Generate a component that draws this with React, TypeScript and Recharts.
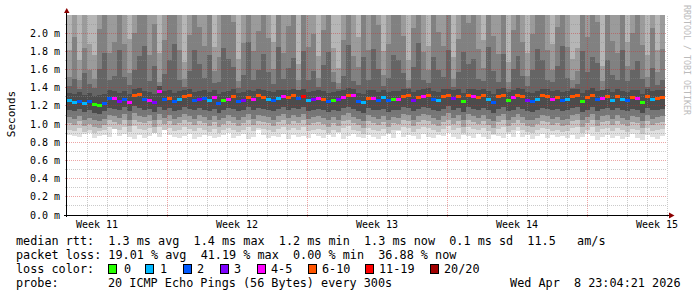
import React from 'react';
import { ComposedChart, Area, Scatter, XAxis, YAxis, ReferenceLine } from 'recharts';

// ---- axis / tick definitions ----
const SPAN_DAYS = 29.9; // data coverage (days)
const X_MAX = 30; // plot width in days
const Y_MAX = 2.2; // ms
const weekTicks = [1.5, 8.5, 15.5, 22.5, 29.5];
const weekLabels = ['Week 11', 'Week 12', 'Week 13', 'Week 14', 'Week 15'];
const weekMajor = [5, 12, 19, 26];
const dayMinor = [1, 2, 3, 4, 6, 7, 8, 9, 10, 11, 13, 14, 15, 16, 17, 18, 20, 21, 22, 23, 24, 25, 27, 28, 29, 30];
const yTicks = [0, 0.2, 0.4, 0.6, 0.8, 1.0, 1.2, 1.4, 1.6, 1.8, 2.0];
const yMinor = [0.1, 0.3, 0.5, 0.7, 0.9, 1.1, 1.3, 1.5, 1.7, 1.9, 2.1];

const lossColors = ['#26ff00', '#00b8ff', '#0059ff', '#7e00ff', '#ff00ff', '#ff5500', '#ff0000', '#a10000'];
const lossLabels = ['0', '1', '2', '3', '4-5', '6-10', '11-19', '20/20'];

// ---- series (values in 0.01 ms) ----
const med = [
  126, 124, 125, 123, 125, 122, 121, 123, 128, 128,
  125, 127, 124, 131, 133, 127, 126, 124, 136, 127,
  128, 125, 127, 130, 131, 126, 127, 128, 126, 129,
  123, 126, 127, 130, 125, 126, 129, 127, 131, 129,
  127, 126, 128, 130, 129, 131, 128, 130, 126, 127,
  128, 127, 125, 126, 127, 129, 132, 131, 125, 124,
  128, 128, 126, 129, 126, 127, 127, 130, 131, 126,
  129, 130, 132, 127, 126, 130, 131, 128, 130, 125,
  131, 130, 129, 131, 127, 124, 130, 131, 126, 129,
  132, 130, 126, 125, 127, 131, 130, 127, 129, 126,
  127, 130, 131, 125, 129, 132, 127, 128, 130, 126,
  130, 127, 126, 129, 128, 124, 130, 127, 128, 129,
];
// loss bucket index into lossColors
const loss = [
  1, 1, 2, 1, 2, 0, 0, 2, 2, 4,
  3, 2, 4, 5, 5, 2, 4, 3, 4, 2,
  5, 2, 1, 5, 5, 2, 3, 2, 1, 4,
  2, 0, 4, 5, 2, 3, 5, 4, 5, 5,
  1, 2, 1, 4, 5, 5, 2, 6, 1, 3,
  4, 5, 2, 0, 3, 4, 5, 4, 2, 1,
  5, 4, 2, 1, 2, 0, 4, 5, 5, 3,
  5, 4, 5, 2, 1, 5, 5, 3, 5, 0,
  5, 4, 5, 5, 1, 2, 5, 5, 0, 4,
  5, 5, 3, 2, 1, 5, 5, 4, 5, 2,
  1, 5, 5, 0, 5, 5, 2, 4, 5, 1,
  5, 1, 2, 5, 4, 0, 5, 1, 5, 5,
];
const hi2 = [
  182, 240, 170, 235, 188, 176, 245, 250, 238, 242,
  250, 236, 194, 240, 255, 248, 232, 244, 178, 239,
  252, 246, 238, 168, 234, 250, 241, 237, 253, 185,
  236, 249, 254, 243, 172, 239, 251, 235, 242, 248,
  240, 190, 252, 236, 244, 249, 166, 253, 238, 241,
  175, 237, 250, 184, 162, 243, 254, 239, 196, 247,
  235, 251, 244, 180, 240, 249, 253, 236, 170, 242,
  255, 238, 186, 248, 241, 234, 252, 174, 239, 250,
  243, 249, 237, 192, 254, 240, 236, 251, 168, 245,
  250, 239, 178, 242, 253, 247, 235, 188, 241, 252,
  238, 172, 184, 249, 243, 255, 237, 164, 250, 240,
  236, 252, 190, 244, 248, 239, 176, 241, 182, 237,
];
const hi3 = [
  152, 196, 148, 184, 160, 150, 205, 238, 178, 190,
  242, 188, 156, 200, 236, 245, 176, 210, 146, 193,
  240, 233, 182, 150, 198, 244, 207, 186, 239, 158,
  174, 241, 236, 212, 147, 189, 247, 180, 202, 234,
  195, 161, 243, 178, 208, 237, 149, 246, 185, 199,
  151, 203, 240, 157, 145, 192, 248, 175, 163, 235,
  181, 244, 209, 154, 188, 238, 232, 197, 148, 206,
  245, 179, 159, 237, 201, 186, 243, 150, 194, 240,
  211, 236, 183, 162, 248, 197, 177, 241, 146, 204,
  239, 190, 153, 199, 244, 235, 182, 160, 207, 246,
  185, 149, 158, 242, 196, 238, 212, 147, 236, 191,
  178, 245, 164, 200, 233, 187, 152, 206, 157, 183,
];
const hi4 = [
  142, 150, 139, 156, 144, 140, 161, 178, 148, 153,
  182, 152, 143, 160, 175, 186, 147, 164, 139, 155,
  170, 188, 149, 141, 158, 181, 166, 151, 176, 145,
  146, 184, 172, 163, 140, 154, 190, 149, 159, 177,
  157, 144, 185, 150, 162, 173, 138, 180, 148, 158,
  141, 165, 179, 146, 139, 153, 187, 147, 143, 174,
  149, 183, 161, 142, 151, 176, 171, 156, 140, 163,
  189, 148, 145, 174, 160, 152, 182, 141, 157, 179,
  166, 172, 150, 147, 185, 158, 146, 177, 139, 161,
  175, 153, 142, 159, 183, 171, 148, 146, 164, 186,
  151, 140, 144, 180, 157, 174, 167, 138, 170, 154,
  149, 181, 147, 160, 169, 150, 141, 162, 143, 148,
];
const cHi = [
  134, 133, 135, 132, 134, 131, 132, 133, 137, 136,
  134, 136, 133, 139, 140, 136, 135, 133, 142, 136,
  137, 134, 136, 138, 139, 135, 136, 137, 135, 138,
  133, 135, 136, 139, 134, 135, 138, 136, 139, 138,
  136, 135, 137, 138, 138, 139, 137, 139, 135, 136,
  137, 136, 134, 135, 136, 138, 140, 139, 134, 133,
  137, 137, 135, 138, 135, 136, 136, 139, 139, 135,
  138, 139, 140, 136, 135, 139, 139, 137, 139, 134,
  139, 139, 138, 139, 136, 133, 139, 140, 135, 138,
  140, 139, 135, 134, 136, 139, 139, 136, 138, 135,
  136, 139, 139, 134, 138, 140, 136, 137, 139, 135,
  139, 136, 135, 138, 137, 133, 139, 136, 137, 138,
];
const cLo = [
  116, 114, 117, 113, 115, 112, 111, 114, 118, 117,
  115, 119, 114, 120, 118, 116, 117, 113, 119, 115,
  118, 114, 116, 119, 117, 115, 118, 116, 114, 117,
  112, 115, 118, 117, 114, 116, 119, 115, 118, 117,
  116, 114, 117, 119, 115, 118, 117, 119, 114, 116,
  117, 115, 113, 116, 114, 118, 119, 117, 114, 112,
  118, 116, 115, 117, 113, 116, 115, 119, 118, 114,
  117, 119, 118, 115, 114, 117, 120, 116, 118, 113,
  119, 117, 116, 118, 115, 112, 117, 119, 114, 116,
  119, 117, 114, 113, 116, 118, 117, 115, 117, 114,
  115, 118, 119, 113, 116, 119, 114, 117, 118, 115,
  118, 115, 114, 117, 116, 112, 118, 115, 116, 117,
];
const lo4 = [
  108, 106, 109, 105, 107, 104, 103, 106, 110, 109,
  107, 111, 105, 112, 109, 108, 110, 104, 111, 107,
  110, 106, 108, 111, 109, 106, 110, 108, 105, 109,
  104, 107, 110, 108, 105, 108, 111, 106, 110, 109,
  108, 105, 109, 111, 107, 110, 108, 111, 106, 108,
  109, 107, 104, 108, 105, 110, 112, 108, 106, 103,
  110, 108, 106, 109, 104, 108, 107, 111, 110, 105,
  109, 111, 110, 107, 105, 109, 112, 107, 110, 104,
  111, 109, 107, 110, 106, 103, 109, 111, 105, 108,
  111, 108, 105, 104, 107, 110, 109, 106, 108, 105,
  106, 110, 111, 104, 108, 111, 105, 109, 110, 106,
  110, 107, 105, 109, 108, 103, 110, 106, 108, 109,
];
const lo3 = [
  101, 99, 103, 98, 100, 97, 96, 99, 104, 102,
  100, 104, 98, 105, 102, 101, 103, 97, 104, 100,
  103, 99, 101, 104, 102, 99, 103, 101, 98, 102,
  97, 100, 103, 101, 98, 101, 104, 99, 103, 102,
  101, 98, 102, 104, 100, 103, 101, 104, 99, 101,
  102, 100, 97, 101, 98, 103, 105, 101, 99, 96,
  103, 101, 99, 102, 97, 101, 100, 104, 103, 98,
  102, 104, 103, 100, 98, 102, 105, 100, 103, 97,
  104, 102, 100, 103, 99, 96, 102, 104, 98, 101,
  104, 101, 98, 97, 100, 103, 102, 99, 101, 98,
  99, 103, 104, 97, 101, 104, 98, 102, 103, 99,
  103, 100, 98, 102, 101, 96, 103, 99, 101, 102,
];
const lo2 = [
  94, 92, 96, 91, 93, 90, 92, 93, 97, 95,
  93, 97, 91, 98, 95, 94, 96, 90, 97, 93,
  96, 92, 94, 97, 95, 92, 96, 94, 91, 95,
  90, 93, 96, 94, 91, 94, 97, 92, 96, 95,
  94, 91, 95, 97, 93, 96, 94, 97, 92, 94,
  95, 93, 90, 94, 91, 96, 98, 94, 92, 89,
  96, 94, 92, 95, 90, 94, 93, 97, 96, 91,
  95, 97, 96, 93, 91, 95, 98, 93, 96, 90,
  97, 95, 93, 96, 92, 89, 95, 97, 91, 94,
  97, 94, 91, 90, 93, 96, 95, 92, 94, 91,
  92, 96, 97, 90, 94, 97, 91, 95, 96, 92,
  96, 93, 91, 95, 94, 89, 96, 92, 94, 95,
];
const lo1 = [
  88, 87, 86, 89, 90, 85, 87, 88, 86, 95,
  87, 89, 86, 84, 88, 85, 87, 90, 86, 94,
  88, 86, 85, 87, 89, 84, 86, 88, 87, 85,
  86, 88, 90, 85, 87, 89, 84, 86, 93, 88,
  85, 87, 86, 89, 84, 88, 86, 87, 85, 89,
  87, 85, 88, 86, 90, 84, 87, 89, 86, 85,
  88, 86, 84, 87, 89, 85, 92, 86, 88, 87,
  84, 89, 86, 85, 88, 87, 90, 86, 84, 88,
  87, 85, 89, 86, 84, 88, 87, 85, 89, 86,
  92, 86, 88, 84, 87, 89, 85, 88, 86, 87,
  85, 88, 84, 86, 89, 87, 83, 86, 88, 85,
  87, 84, 86, 89, 85, 83, 88, 86, 84, 87,
];

// ---- build tables for the library ----
const colW = SPAN_DAYS / med.length;
const clip = (v: number) => Math.min(v / 100, Y_MAX);
const rows: any[] = med.map((m, i) => ({
  x: i * colW,
  med: m / 100,
  hi2: clip(hi2[i]),
  hi3: clip(hi3[i]),
  hi4: clip(hi4[i]),
  cHi: clip(cHi[i]),
  cLo: cLo[i] / 100,
  lo4: lo4[i] / 100,
  lo3: lo3[i] / 100,
  lo2: lo2[i] / 100,
  lo1: lo1[i] / 100,
}));
rows.push({ ...rows[rows.length - 1], x: SPAN_DAYS });
const marks = med.map((m, i) => ({ x: (i + 0.5) * colW, med: m / 100, loss: loss[i] }));

const bands: { key: string; fn: (d: any) => number[]; fill: string }[] = [
  { key: 'u1', fn: (d) => [d.med, Y_MAX], fill: '#b6b6b6' },
  { key: 'u2', fn: (d) => [d.med, d.hi2], fill: '#9b9b9b' },
  { key: 'u3', fn: (d) => [d.med, d.hi3], fill: '#818181' },
  { key: 'u4', fn: (d) => [d.med, d.hi4], fill: '#656565' },
  { key: 'l1', fn: (d) => [d.lo1, d.med], fill: '#e0e0e0' },
  { key: 'l2', fn: (d) => [d.lo2, d.med], fill: '#c4c4c4' },
  { key: 'l3', fn: (d) => [d.lo3, d.med], fill: '#a0a0a0' },
  { key: 'l4', fn: (d) => [d.lo4, d.med], fill: '#767676' },
  { key: 'core', fn: (d) => [d.cLo, d.cHi], fill: '#4c4c4c' },
];

const MONO = "'DejaVu Sans Mono', monospace";
const MINOR = 'rgba(140,140,140,0.45)';
const MAJOR = 'rgba(210,40,40,0.42)';

const MedianMark = (props: any) => {
  const { cx, cy, payload } = props;
  if (cx == null || cy == null) return null;
  return (
    <rect
      x={cx - 2.5}
      y={cy - 1.5}
      width={5}
      height={3}
      fill={lossColors[payload?.loss ?? 0]}
      shapeRendering="crispEdges"
    />
  );
};

const YTick = (props: any) => {
  const { x, y, payload } = props;
  return (
    <text x={x} y={y} dy="0.355em" textAnchor="end" fontFamily={MONO} fontSize={10} fill="#000">
      {`${Number(payload.value).toFixed(1)} m`}
    </text>
  );
};

const XTick = (props: any) => {
  const { x, y, payload, index } = props;
  return (
    <text x={x} y={y} dy="0.71em" textAnchor="middle" fontFamily={MONO} fontSize={10} fill="#000">
      {weekLabels[index] ?? String(payload.value)}
    </text>
  );
};

const boxX = [108, 145, 183, 220, 257, 308, 365, 430];
const boxLabelX = [124, 160, 197, 234, 271, 322, 379, 444];

export default function App() {
  return (
    <div style={{ position: 'absolute', left: 0, top: 0, width: 697, height: 297, background: '#fff' }}>
      <ComposedChart
        width={697}
        height={297}
        data={rows}
        margin={{ top: 15, right: 30, bottom: 52, left: 7 }}
      >
        <XAxis
          dataKey="x"
          type="number"
          domain={[0, X_MAX]}
          allowDataOverflow
          ticks={weekTicks}
          interval={0}
          tick={<XTick />}
          tickLine={false}
          axisLine={false}
          tickSize={0}
          tickMargin={6}
          height={30}
        />
        <YAxis
          type="number"
          domain={[0, Y_MAX]}
          allowDataOverflow
          ticks={yTicks}
          interval={0}
          tick={<YTick />}
          tickLine={false}
          axisLine={false}
          tickSize={0}
          tickMargin={7}
          width={60}
        />
        {bands.map((b) => (
          <Area
            key={b.key}
            name={b.key}
            dataKey={b.fn}
            type="stepAfter"
            stroke="none"
            fill={b.fill}
            fillOpacity={1}
            dot={false}
            activeDot={false}
            isAnimationActive={false}
            shapeRendering="crispEdges"
          />
        ))}
        {yMinor.map((v) => (
          <ReferenceLine
            key={`ym${v}`}
            segment={[{ x: -0.12, y: v }, { x: X_MAX, y: v }]}
            ifOverflow="visible"
            stroke={MINOR}
            strokeDasharray="1 1"
            shapeRendering="crispEdges"
          />
        ))}
        {dayMinor.map((v) => (
          <ReferenceLine
            key={`xm${v}`}
            segment={[{ x: v, y: -0.025 }, { x: v, y: Y_MAX }]}
            ifOverflow="visible"
            stroke={MINOR}
            strokeDasharray="1 1"
            shapeRendering="crispEdges"
          />
        ))}
        {yTicks.slice(1).map((v) => (
          <ReferenceLine
            key={`yM${v}`}
            segment={[{ x: -0.12, y: v }, { x: X_MAX, y: v }]}
            ifOverflow="visible"
            stroke={MAJOR}
            strokeDasharray="1 1"
            shapeRendering="crispEdges"
          />
        ))}
        {weekMajor.map((v) => (
          <ReferenceLine
            key={`xM${v}`}
            segment={[{ x: v, y: -0.025 }, { x: v, y: Y_MAX }]}
            ifOverflow="visible"
            stroke={MAJOR}
            strokeDasharray="1 1"
            shapeRendering="crispEdges"
          />
        ))}
        <Scatter data={marks} dataKey="med" shape={MedianMark} isAnimationActive={false} />
      </ComposedChart>
      <svg
        width={697}
        height={297}
        style={{ position: 'absolute', left: 0, top: 0, pointerEvents: 'none' }}
      >
        {/* axes */}
        <line x1={66.5} y1={217} x2={66.5} y2={12} stroke="#000" strokeWidth={1} />
        <line x1={64} y1={215.5} x2={669} y2={215.5} stroke="#000" strokeWidth={1} />
        <polygon points="64,13 69.5,13 66.75,8" fill="#8b0000" />
        <polygon points="669,212.5 669,218.5 674.5,215.5" fill="#8b0000" />
        {/* axis title */}
        <text
          x={14.5}
          y={114}
          transform="rotate(-90 14.5 114)"
          textAnchor="middle"
          fontFamily={MONO}
          fontSize={11}
          fill="#000"
        >
          Seconds
        </text>
        <text
          x={684}
          y={60}
          transform="rotate(90 684 60)"
          textAnchor="middle"
          fontFamily={MONO}
          fontSize={8.3}
          fill="#bbbbbb"
        >
          RRDTOOL / TOBI OETIKER
        </text>
        {/* legend */}
        <g fontFamily={MONO} fontSize={11.8} fill="#000" style={{ whiteSpace: 'pre' }}>
          <text x={16} y={245} xmlSpace="preserve">
            {'median rtt:  1.3 ms avg  1.4 ms max  1.2 ms min  1.3 ms now  0.1 ms sd  11.5   am/s'}
          </text>
          <text x={16} y={259} xmlSpace="preserve">
            {'packet loss: 19.01 % avg  41.19 % max  0.00 % min  36.88 % now'}
          </text>
          <text x={16} y={273} xmlSpace="preserve">
            {'loss color:'}
          </text>
          {lossLabels.map((l, i) => (
            <g key={l}>
              <rect
                x={boxX[i] + 0.5}
                y={264.5}
                width={8}
                height={9}
                fill={lossColors[i]}
                stroke="#000"
                strokeWidth={1}
              />
              <text x={boxLabelX[i]} y={273}>
                {l}
              </text>
            </g>
          ))}
          <text x={16} y={287}>
            probe:
          </text>
          <text x={108} y={287} xmlSpace="preserve">
            {'20 ICMP Echo Pings (56 Bytes) every 300s'}
          </text>
          <text x={680.5} y={287} textAnchor="end" xmlSpace="preserve">
            {'Wed Apr  8 23:04:21 2026'}
          </text>
        </g>
      </svg>
    </div>
  );
}
